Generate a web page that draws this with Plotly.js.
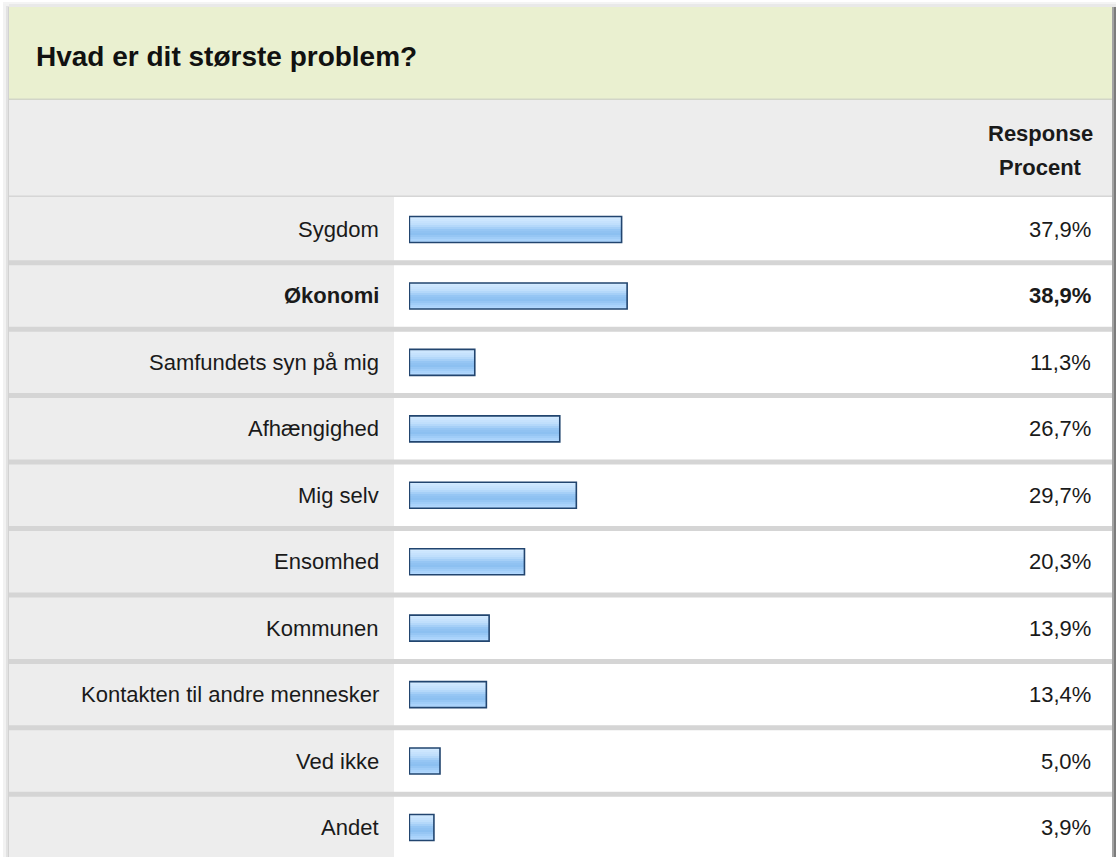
<!DOCTYPE html>
<html>
<head>
<meta charset="utf-8">
<script src="https://cdn.plot.ly/plotly-3.0.1.min.js"></script>
<style>
  html, body { margin: 0; padding: 0; background: #ffffff; }
  #chart { width: 1116px; height: 857px; }
</style>
</head>
<body>
<div id="chart"></div>
<script>
// ---- data ----
const titleText = 'Hvad er dit største problem?';
const categories = ['Sygdom', 'Økonomi', 'Samfundets syn på mig', 'Afhængighed', 'Mig selv',
                    'Ensomhed', 'Kommunen', 'Kontakten til andre mennesker', 'Ved ikke', 'Andet'];
const values = [37.9, 38.9, 11.3, 26.7, 29.7, 20.3, 13.9, 13.4, 5.0, 3.9];
const highlighted = ['Økonomi'];
const headerLines = ['Response', 'Procent'];

// ---- layout constants (pixels) ----
const W = 1116, H = 857;
const FONT = '"Liberation Sans", Arial, Helvetica, sans-serif';
const px = x => x / W;
const py = y => 1 - y / H;
const rowTop = 196.3, rowH = 66.44;
const barThick = 26 / rowH;           // bar thickness in category units
const xZeroPx = 412.4, pxPerUnit = 5.52;
const xDomL = 409, xDomR = 1000;

function fmt(v) { return v.toFixed(1).replace('.', ',') + '%'; }
function isHi(c) { return highlighted.indexOf(c) >= 0; }

// ---- glossy gradient for the bars: stacked thin bands ----
const gradStops = [
  [0.00, [214, 236, 255]],
  [0.30, [189, 221, 252]],
  [0.52, [146, 196, 243]],
  [0.66, [140, 192, 241]],
  [0.85, [166, 209, 250]],
  [1.00, [182, 219, 255]]
];
function gradColor(t) {
  for (let k = 1; k < gradStops.length; k++) {
    const [t1, c1] = gradStops[k];
    const [t0, c0] = gradStops[k - 1];
    if (t <= t1) {
      const u = (t - t0) / (t1 - t0);
      const c = c0.map((v, j) => Math.round(v + (c1[j] - v) * u));
      return 'rgb(' + c.join(',') + ')';
    }
  }
  return 'rgb(' + gradStops[gradStops.length - 1][1].join(',') + ')';
}
const nBands = 13;
const baseVal = -0.55;
const traces = [];
for (let b = 0; b < nBands; b++) {
  const f0 = b / nBands, f1 = (b + 1) / nBands;
  traces.push({
    type: 'bar', orientation: 'h',
    y: categories, x: values.map(v => v - baseVal), base: baseVal,
    width: (f1 - f0) * barThick + 0.004,
    offset: -barThick / 2 + f0 * barThick,
    marker: { color: gradColor((f0 + f1) / 2), line: { width: 0 } },
    hoverinfo: 'skip', showlegend: false
  });
}
traces.push({
  type: 'bar', orientation: 'h',
  y: categories, x: values.map(v => v - baseVal), base: baseVal,
  width: barThick, offset: -barThick / 2,
  marker: { color: 'rgba(0,0,0,0)', line: { width: 1.6, color: '#22456f' } },
  hoverinfo: 'skip', showlegend: false
});

// ---- background shapes ----
const shapes = [];
function rect(x0, y0, x1, y1, color) {
  shapes.push({ type: 'rect', xref: 'paper', yref: 'paper', layer: 'below',
    x0: px(x0), x1: px(x1), y0: py(y1), y1: py(y0), fillcolor: color, line: { width: 0 } });
}
// panel shadow (top / left)
rect(3, 2, 1116, 7, '#f4f4f4');
rect(5, 4, 1116, 7, '#e9e9e9');
rect(3, 4, 9, 857, '#f2f2f2');
rect(6, 6, 9, 857, '#e2e2e2');
rect(8, 7, 9, 857, '#d2d2d2');
// title band
rect(9, 7, 1112, 99, '#eaf0d0');
rect(9, 98.5, 1112, 100, '#d2d5c8');
// header band
rect(9, 100, 1112, 196, '#ededed');
rect(9, 195.5, 1112, 197, '#d6d6d6');
// left label column
rect(9, 197, 394, 857, '#ededed');
// row separators
for (let i = 1; i < categories.length; i++) {
  const y = rowTop + i * rowH;
  rect(9, y - 2.5, 1112, y + 2.5, '#d5d5d5');
}
// right edge shadow
rect(1112, 7, 1114, 857, '#a3a3a3');
rect(1114, 7, 1116, 857, '#7c7c7c');

// ---- annotations ----
const annotations = [];
annotations.push({ xref: 'paper', yref: 'paper', x: px(34), y: py(57),
  xanchor: 'left', yanchor: 'middle', showarrow: false,
  text: '<b>' + titleText + '</b>', font: { family: FONT, size: 28, color: '#111111' } });
headerLines.forEach((t, i) => annotations.push({ xref: 'paper', yref: 'paper',
  x: px(1040), y: py(133 + i * 34), xanchor: 'center', yanchor: 'middle', showarrow: false,
  text: '<b>' + t + '</b>', font: { family: FONT, size: 22, color: '#1a1a1a' } }));
categories.forEach((c, i) => {
  const hi = isHi(c);
  annotations.push({ xref: 'paper', yref: 'y', x: px(381), y: c,
    xanchor: 'right', yanchor: 'middle', showarrow: false,
    text: hi ? '<b>' + c + '</b>' : c, font: { family: FONT, size: 22, color: '#1a1a1a' } });
  annotations.push({ xref: 'paper', yref: 'y', x: px(1093), y: c,
    xanchor: 'right', yanchor: 'middle', showarrow: false,
    text: hi ? '<b>' + fmt(values[i]) + '</b>' : fmt(values[i]),
    font: { family: FONT, size: 22, color: '#1a1a1a' } });
});

const layout = {
  width: W, height: H,
  margin: { l: 0, r: 0, t: 0, b: 0, pad: 0 },
  paper_bgcolor: '#ffffff', plot_bgcolor: 'rgba(0,0,0,0)',
  barmode: 'overlay', bargap: 0,
  showlegend: false,
  xaxis: { domain: [px(xDomL), px(xDomR)],
    range: [(xDomL - xZeroPx) / pxPerUnit, (xDomR - xZeroPx) / pxPerUnit],
    visible: false, fixedrange: true },
  yaxis: { type: 'category', categoryorder: 'array', categoryarray: categories,
    domain: [0, py(rowTop)],
    range: [(H - rowTop) / rowH - 0.5, -0.5],
    visible: false, fixedrange: true },
  shapes: shapes, annotations: annotations,
  font: { family: FONT }
};

Plotly.newPlot('chart', traces, layout, { displayModeBar: false, staticPlot: true });
</script>
</body>
</html>
